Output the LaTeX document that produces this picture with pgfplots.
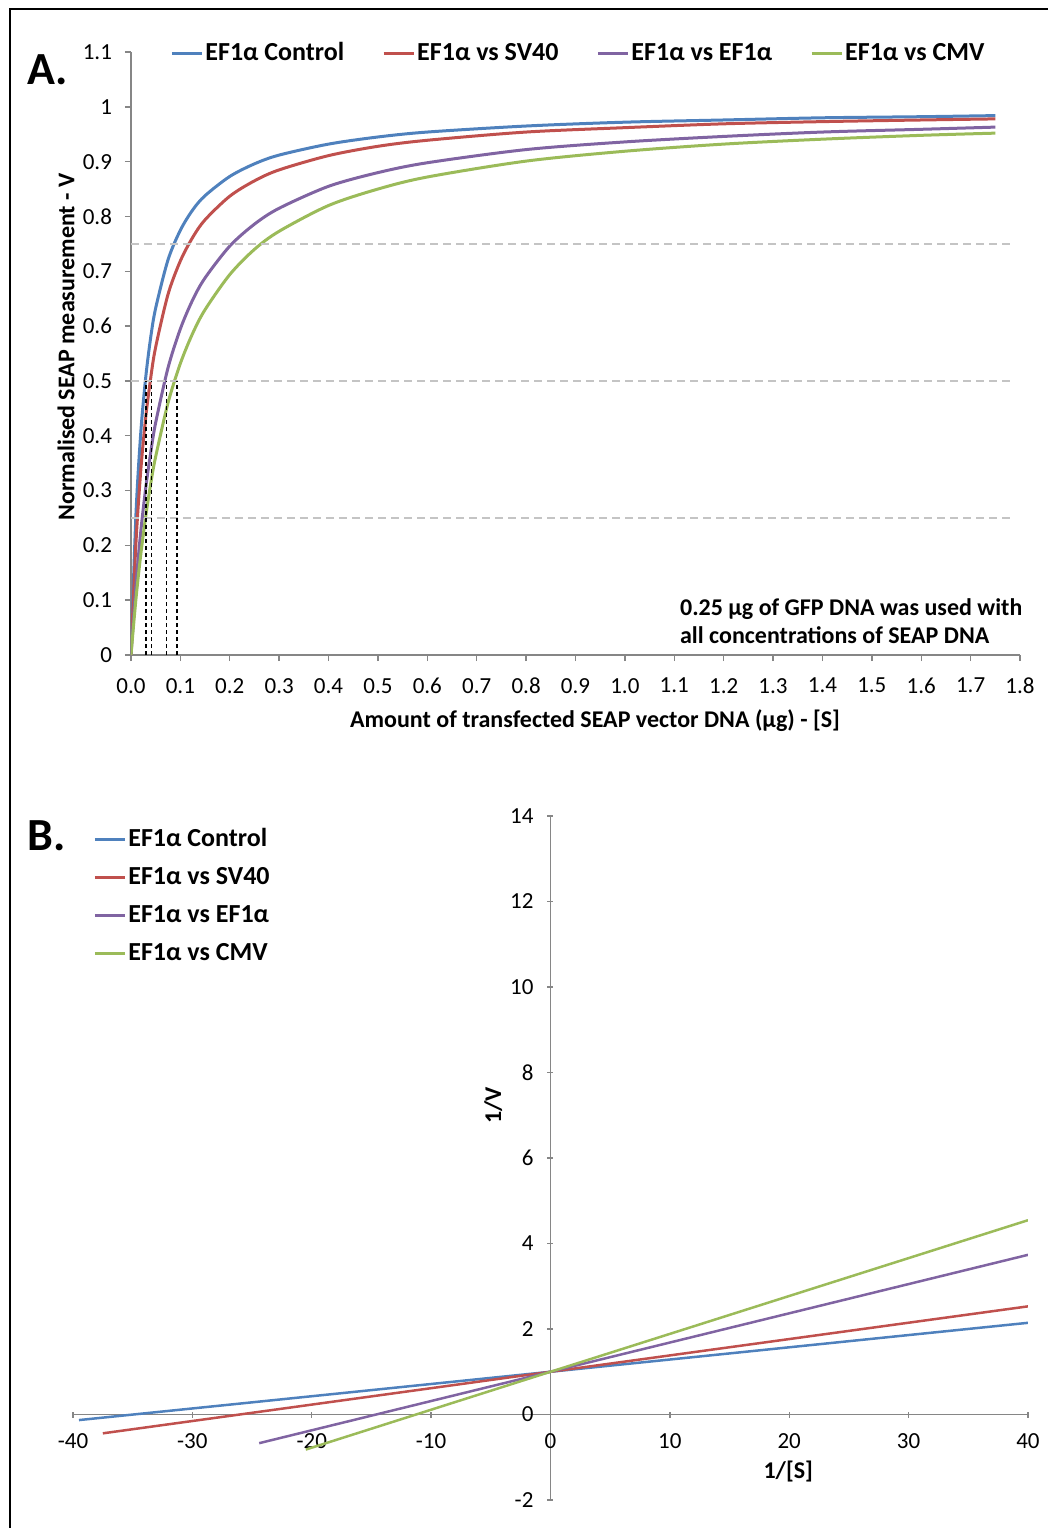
\documentclass[border=0pt]{standalone}
\usepackage{pgfplots}
\usepackage{pgfplotstable}
\pgfplotsset{compat=1.18}
\usepackage{fontspec}
\setmainfont{Carlito}

\definecolor{cblue}{HTML}{4F81BD}
\definecolor{cred}{HTML}{C0504D}
\definecolor{cpurple}{HTML}{8064A2}
\definecolor{cgreen}{HTML}{9BBB59}
\definecolor{axgray}{HTML}{868686}
\definecolor{dashgray}{HTML}{C4C4C4}

% saturation curves, panel A
\pgfplotstableread{
S     ctrl  sv40  ef1a  cmv
0     0     0     0     0
0.01  0.256 0.204 0.128 0.102
0.02  0.408 0.339 0.227 0.185
0.03  0.508 0.435 0.306 0.254
0.04  0.580 0.506 0.370 0.313
0.05  0.633 0.562 0.424 0.362
0.075 0.721 0.658 0.524 0.460
0.1   0.775 0.719 0.595 0.532
0.125 0.812 0.762 0.648 0.587
0.15  0.838 0.794 0.688 0.630
0.2   0.873 0.837 0.746 0.694
0.25  0.896 0.865 0.786 0.740
0.3   0.912 0.885 0.815 0.773
0.4   0.932 0.911 0.855 0.820
0.5   0.945 0.928 0.880 0.850
0.6   0.954 0.939 0.898 0.872
0.8   0.965 0.954 0.922 0.901
1.0   0.972 0.962 0.936 0.919
1.2   0.976 0.969 0.946 0.932
1.4   0.980 0.973 0.954 0.941
1.6   0.982 0.976 0.959 0.948
1.75  0.984 0.978 0.963 0.952
}\mmdata

\newcommand{\labfont}{\bfseries\fontsize{12}{14}\selectfont}

\pgfplotsset{
  excel/.style={
    scale only axis,
    tick style={axgray, line width=0.7pt},
    major tick length=3pt, tick align=outside,
    tick label style={font=\fontsize{11.5}{13}\selectfont},
    /pgf/number format/assume math mode=true,
    legend image code/.code={\draw[#1, line width=1.5pt] (0pt,0pt) -- (15pt,0pt);},
  },
}

\begin{document}
\begin{tikzpicture}
\useasboundingbox (0,0) rectangle (524pt,-764pt);
\draw[line width=1pt] (5pt,-764pt) -- (5pt,-4.5pt) -- (524pt,-4.5pt);

\begin{axis}[excel,
  at={(65.5pt,-327.5pt)}, anchor=south west,
  width=444.5pt, height=301.5pt,
  xmin=0, xmax=1.8, ymin=0, ymax=1.1,
  axis x line*=bottom, axis y line*=left,
  axis line style={-, axgray, line width=0.7pt},
  xtick={0,0.1,0.2,0.3,0.4,0.5,0.6,0.7,0.8,0.9,1.0,1.1,1.2,1.3,1.4,1.5,1.6,1.7,1.8},
  xticklabels={0.0,0.1,0.2,0.3,0.4,0.5,0.6,0.7,0.8,0.9,1.0,1.1,1.2,1.3,1.4,1.5,1.6,1.7,1.8},
  ytick={0,0.1,0.2,0.3,0.4,0.5,0.6,0.7,0.8,0.9,1,1.1},
  yticklabels={0,0.1,0.2,0.3,0.4,0.5,0.6,0.7,0.8,0.9,1,1.1},
  xticklabel style={yshift=-5pt},
  yticklabel style={xshift=-3pt},
  xlabel={Amount of transfected SEAP vector DNA (μg) - [S]},
  xlabel style={at={(axis description cs:0.522,-0.1095)}, anchor=center, font=\labfont},
  ylabel={Normalised SEAP measurement  - V},
  ylabel style={at={(axis description cs:-0.0731,0.511)}, anchor=center, rotate=0, font=\labfont},
  legend style={at={(axis description cs:0.0439,0.998)}, anchor=west,
    draw=none, fill=none, inner sep=0pt,
    font=\bfseries\fontsize{13}{15}\selectfont,
    nodes={inner xsep=1pt, inner ysep=2pt},
    /tikz/every even column/.append style={column sep=18pt}},
  legend columns=-1,
]
\addplot[cblue, line width=1.5pt, smooth] table[x=S, y=ctrl] {\mmdata};
\addplot[cred, line width=1.5pt, smooth] table[x=S, y=sv40] {\mmdata};
\addplot[cpurple, line width=1.5pt, smooth] table[x=S, y=ef1a] {\mmdata};
\addplot[cgreen, line width=1.5pt, smooth] table[x=S, y=cmv] {\mmdata};
\legend{EF1α Control, EF1α vs SV40, EF1α vs EF1α, EF1α vs CMV}
% reference levels
\addplot[dashgray, line width=0.8pt, dash pattern=on 4pt off 2.5pt, forget plot] coordinates {(0,0.75) (1.78,0.75)};
\addplot[dashgray, line width=0.8pt, dash pattern=on 4pt off 2.5pt, forget plot] coordinates {(0,0.5) (1.78,0.5)};
\addplot[dashgray, line width=0.8pt, dash pattern=on 4pt off 2.5pt, forget plot] coordinates {(0,0.25) (1.78,0.25)};
% half-maximal concentrations
\addplot[black, line width=0.7pt, dash pattern=on 2pt off 1.5pt, forget plot] coordinates {(0.03,0) (0.03,0.5)};
\addplot[black, line width=0.7pt, dash pattern=on 2pt off 1.5pt, forget plot] coordinates {(0.042,0) (0.042,0.5)};
\addplot[black, line width=0.7pt, dash pattern=on 2pt off 1.5pt, forget plot] coordinates {(0.072,0) (0.072,0.5)};
\addplot[black, line width=0.7pt, dash pattern=on 2pt off 1.5pt, forget plot] coordinates {(0.093,0) (0.093,0.5)};
\node[anchor=west, align=left, inner sep=0pt, font=\labfont]
  at (axis cs:1.111,0.061) {0.25 μg of GFP DNA was used with\\all concentrations of SEAP DNA};
\end{axis}

\begin{axis}[excel,
  at={(36.5pt,-750pt)}, anchor=south west,
  width=477.5pt, height=342pt,
  xmin=-40, xmax=40, ymin=-2, ymax=14,
  axis lines=middle,
  axis line style={-, axgray, line width=0.7pt},
  hide obscured x ticks=false, hide obscured y ticks=false,
  xtick={-40,-30,-20,-10,0,10,20,30,40},
  ytick={-2,0,2,4,6,8,10,12,14},
  xticklabel style={yshift=-4.5pt},
  yticklabel style={xshift=-3.5pt},
  xlabel={1/[S]},
  xlabel style={at={(axis description cs:0.749,0.041)}, anchor=center, font=\labfont},
  ylabel={1/V},
  ylabel style={at={(axis description cs:0.44,0.577)}, anchor=center, rotate=90, font=\labfont},
  legend style={at={(axis description cs:0.0209,0.988)}, anchor=north west,
    draw=none, fill=none, inner sep=0pt,
    font=\bfseries\fontsize{13}{15}\selectfont,
    nodes={inner xsep=1pt, inner ysep=2pt}, row sep=5pt},
  legend cell align=left,
]
\addplot[cblue, line width=1.25pt] coordinates {(-39.5,-0.13) (0,1) (40,2.145)};
\addplot[cred, line width=1.25pt] coordinates {(-37.5,-0.44) (0,1) (40,2.53)};
\addplot[cpurple, line width=1.25pt] coordinates {(-24.4,-0.67) (0,1) (40,3.735)};
\addplot[cgreen, line width=1.25pt] coordinates {(-20.5,-0.82) (0,1) (40,4.545)};
\legend{EF1α Control, EF1α vs SV40, EF1α vs EF1α, EF1α vs CMV}
\end{axis}

\node[font=\bfseries\fontsize{23}{26}\selectfont] at (24pt,-35pt) {A.};
\node[font=\bfseries\fontsize{23}{26}\selectfont] at (23.5pt,-418pt) {B.};
\end{tikzpicture}
\end{document}
